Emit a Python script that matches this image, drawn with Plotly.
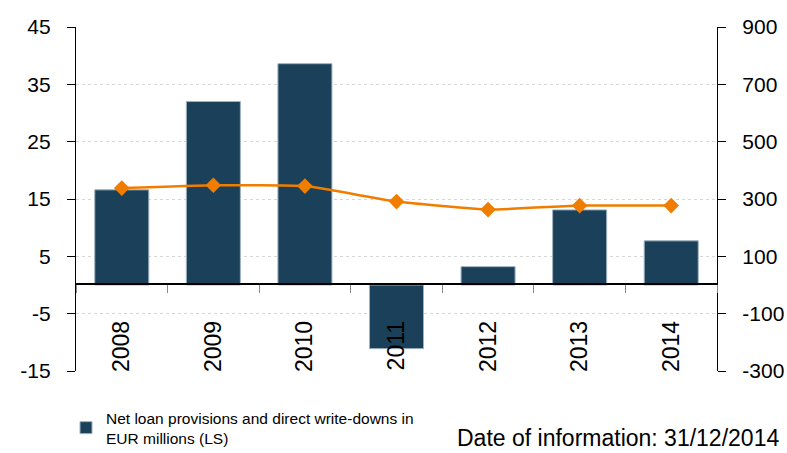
import plotly.graph_objects as go

years = ["2008", "2009", "2010", "2011", "2012", "2013", "2014"]
provisions = [16.6, 32.0, 38.6, -11.1, 3.2, 13.1, 7.7]
line_values = [338, 348, 345, 291, 263, 277, 277]
left_ticks = [-15, -5, 5, 15, 25, 35, 45]
left_labels = ["-15", "-5", "5", "15", "25", "35", "45"]
right_ticks = [-300, -100, 100, 300, 500, 700, 900]
right_labels = ["-300", "-100", "100", "300", "500", "700", "900"]

bar_name = "Net loan provisions and direct write-downs in<br>EUR millions (LS)"
date_text = "Date of information: 31/12/2014"

fig = go.Figure()
fig.add_trace(go.Bar(
    x=years, y=provisions, name=bar_name,
    marker=dict(color="#1A4159", line=dict(color="#9fb2c0", width=1)),
    showlegend=True,
))
fig.add_trace(go.Scatter(
    x=years, y=line_values, yaxis="y2", mode="lines+markers",
    line=dict(color="#F07D00", width=2.5, shape="spline", smoothing=0.4),
    marker=dict(symbol="diamond", size=12, color="#F07D00"),
    showlegend=False,
))

W, H = 787, 453
ml, mr, mt, mb = 76, 70, 27, 82
ph = H - mt - mb
pw = W - ml - mr

fig.update_layout(
    width=W, height=H,
    margin=dict(l=ml, r=mr, t=mt, b=mb, pad=0, autoexpand=False),
    paper_bgcolor="white", plot_bgcolor="white",
    font=dict(family="Liberation Sans, Arial, sans-serif", color="black"),
    bargap=0.41,
    xaxis=dict(
        type="category", anchor="free", position=(H - mb - 284) / ph,
        showline=True, linecolor="black", linewidth=1.5,
        ticks="outside", tickson="boundaries", ticklen=8, tickcolor="#888888",
        tickangle=-90, tickfont=dict(size=23), ticklabelstandoff=27,
        showgrid=False, zeroline=False, automargin=False,
    ),
    yaxis=dict(
        range=[-15, 45], tickvals=left_ticks, ticktext=left_labels,
        showline=True, linecolor="black", linewidth=1.2,
        ticks="outside", ticklen=8, tickcolor="black",
        showgrid=True, gridcolor="#d6d6d6", griddash="dot", gridwidth=1,
        zeroline=False, tickfont=dict(size=21), ticklabelstandoff=12,
        automargin=False,
    ),
    yaxis2=dict(
        range=[-300, 900], tickvals=right_ticks, ticktext=right_labels,
        overlaying="y", side="right",
        showline=True, linecolor="black", linewidth=1.2,
        ticks="outside", ticklen=8, tickcolor="black",
        showgrid=False, zeroline=False, tickfont=dict(size=21), ticklabelstandoff=12,
        automargin=False,
    ),
    legend=dict(
        orientation="h", x=(66 - ml) / pw, xanchor="left",
        y=(H - mb - 401) / ph, yanchor="top",
        font=dict(size=15.5),
        bgcolor="rgba(0,0,0,0)", itemwidth=30,
    ),
    annotations=[dict(
        text=date_text, xref="paper", yref="paper",
        x=(781 - ml) / pw, xanchor="right",
        y=(H - mb - 453) / ph, yanchor="bottom",
        showarrow=False, font=dict(size=23),
    )],
)

fig.write_html("out.html")
